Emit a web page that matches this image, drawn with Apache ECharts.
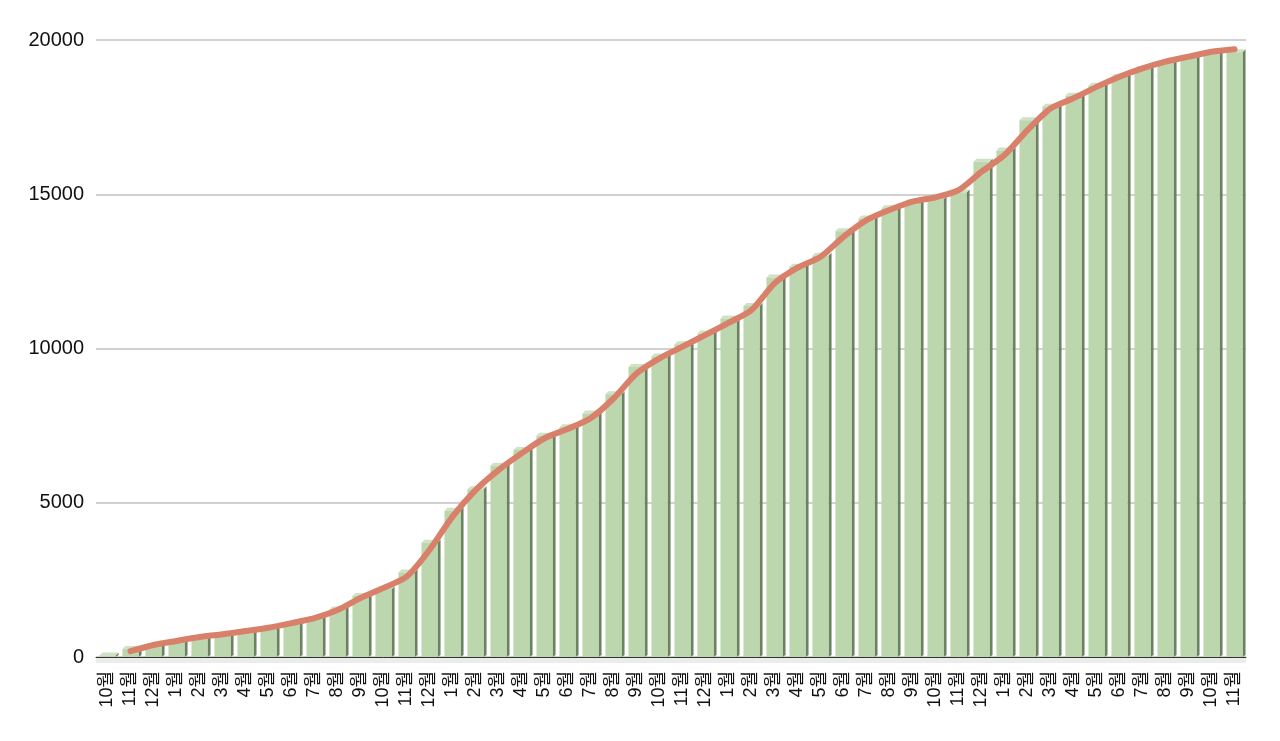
<!DOCTYPE html>
<html>
<head>
<meta charset="utf-8">
<script src="https://cdn.jsdelivr.net/npm/echarts@6/dist/echarts.min.js"></script>
<style>
html,body{margin:0;padding:0;background:#fff;}
#chart{width:1280px;height:741px;}
</style>
</head>
<body>
<div id="chart"></div>
<script>
const categories = ['10월','11월','12월','1월','2월','3월','4월','5월','6월','7월','8월','9월','10월','11월','12월','1월','2월','3월','4월','5월','6월','7월','8월','9월','10월','11월','12월','1월','2월','3월','4월','5월','6월','7월','8월','9월','10월','11월','12월','1월','2월','3월','4월','5월','6월','7월','8월','9월','10월','11월'];
const barValues = [50,260,350,480,580,680,770,900,1050,1230,1540,1980,2200,2740,3700,4740,5440,6200,6710,7170,7450,7890,8520,9400,9740,10140,10490,10970,11380,12300,12650,13010,13800,14210,14550,14730,14840,15060,16050,16420,17400,17840,18190,18520,18810,19070,19250,19410,19570,19600];
const lineValues = [null,190,390,520,650,740,840,950,1100,1260,1520,1910,2240,2600,3470,4550,5410,6060,6600,7090,7390,7740,8380,9190,9680,10060,10440,10830,11250,12110,12620,12970,13620,14160,14490,14760,14900,15130,15730,16270,17080,17780,18110,18480,18810,19080,19300,19460,19620,19700];
const yTicks = { min: 0, max: 20000, interval: 5000 };

const chart = echarts.init(document.getElementById('chart'), null, {renderer: 'canvas'});

function renderBar(params, api) {
  const idx = api.value(0);
  const val = api.value(1);
  const top = api.coord([idx, val]);
  const base = api.coord([idx, 0]);
  const band = api.size([1, 0])[0];
  const w = band * 0.7;
  const d = 3;
  const x0 = top[0] - w / 2;
  const x1 = top[0] + w / 2;
  return {
    type: 'group',
    children: [
      { type: 'rect', shape: { x: base[0] - band / 2, y: base[1] + 1, width: band, height: 5 }, style: { fill: '#ececec' }, z2: 0 },
      { type: 'polygon', shape: { points: [[x1, top[1]], [x1 + d, top[1] - d], [x1 + d, base[1] - d + 1], [x1, base[1]]] }, style: { fill: '#6a8360' }, z2: 1 },
      { type: 'polygon', shape: { points: [[x0, top[1]], [x0 + d, top[1] - d], [x1 + d, top[1] - d], [x1, top[1]]] }, style: { fill: '#cfe2c3' }, z2: 1 },
      { type: 'rect', shape: { x: x0, y: top[1], width: w, height: base[1] - top[1] }, style: { fill: '#bcd6ad' }, z2: 2 }
    ]
  };
}

chart.setOption({
  animation: false,
  backgroundColor: '#ffffff',
  grid: { left: 96, right: 34, top: 40, bottom: 84, containLabel: false },
  xAxis: {
    type: 'category',
    data: categories,
    boundaryGap: true,
    axisLine: { show: true, lineStyle: { color: '#333', width: 1 } },
    axisTick: { show: false },
    axisLabel: {
      rotate: 90, interval: 0, margin: 14,
      color: '#111', fontSize: 18, fontFamily: 'Liberation Sans, Arial, Noto Sans CJK KR, sans-serif'
    },
    splitLine: { show: false }
  },
  yAxis: {
    type: 'value',
    min: yTicks.min, max: yTicks.max, interval: yTicks.interval,
    axisLine: { show: false },
    axisTick: { show: false },
    axisLabel: { margin: 12, color: '#111', fontSize: 20, fontFamily: 'Liberation Sans, Arial, sans-serif', formatter: v => String(v) },
    splitLine: { show: true, lineStyle: { color: '#c2c2c2', width: 1.5 } }
  },
  series: [
    {
      type: 'custom',
      renderItem: renderBar,
      data: barValues.map((v, i) => [i, v]),
      encode: { x: 0, y: 1 },
      z: 2
    },
    {
      type: 'line',
      data: lineValues,
      smooth: 0.25,
      showSymbol: false,
      symbol: 'none',
      lineStyle: { color: '#d9806b', width: 6, cap: 'round', join: 'round' },
      z: 5
    }
  ]
});
</script>
</body>
</html>
